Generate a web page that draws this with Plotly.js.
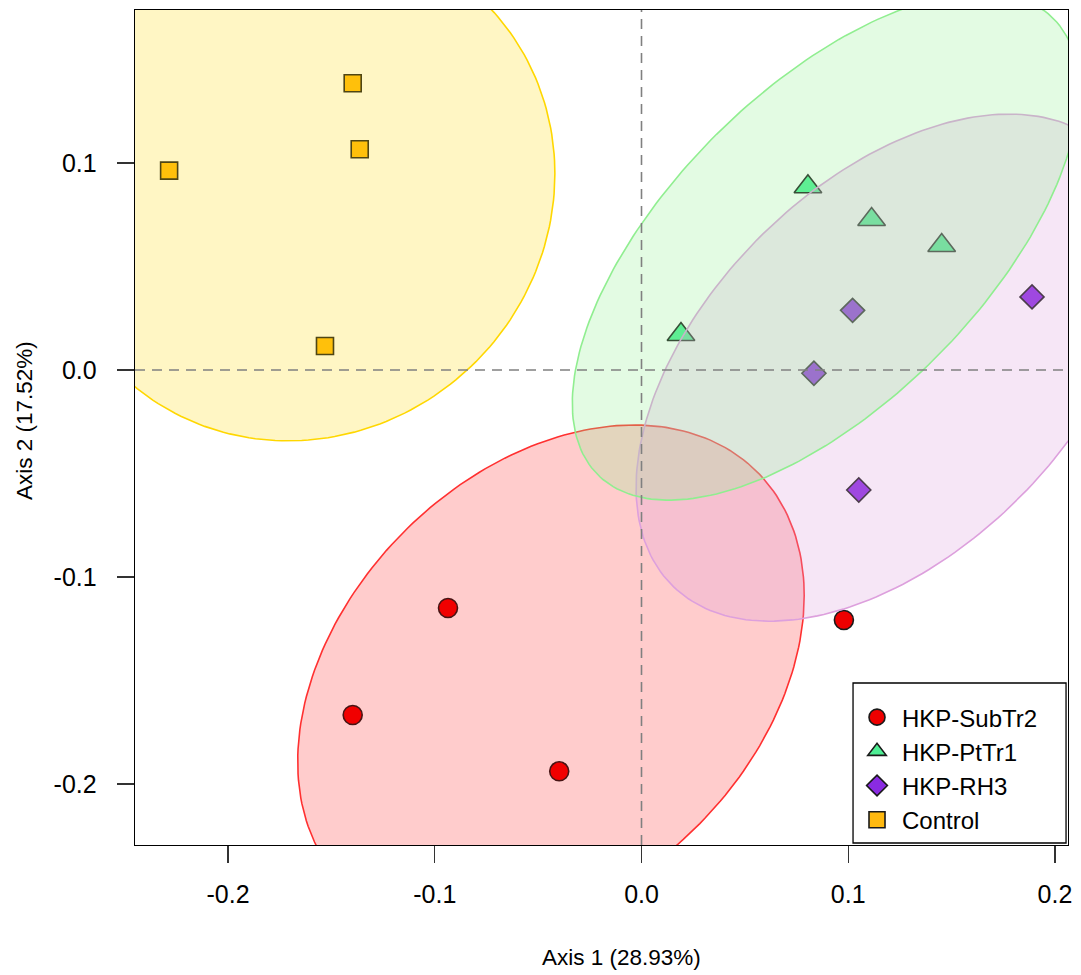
<!DOCTYPE html>
<html>
<head>
<meta charset="utf-8">
<script src="https://cdn.plot.ly/plotly-3.0.1.min.js"></script>
<style>html,body{margin:0;padding:0;background:#fff;}#chart{width:1081px;height:975px;}</style>
</head>
<body>
<div id="chart"></div>
<script>
// ---- data ----
const groups = ["HKP-SubTr2", "HKP-PtTr1", "HKP-RH3", "Control"];

const subTr2X = [-0.0936, -0.1397, -0.0398, 0.0979];
const subTr2Y = [-0.1150, -0.1667, -0.1939, -0.1208];

const ptTr1X = [0.0805, 0.1113, 0.1452, 0.0191];
const ptTr1Y = [0.0885, 0.0727, 0.0601, 0.0171];

const rh3X = [0.1021, 0.0834, 0.1889, 0.1051];
const rh3Y = [0.0288, -0.0016, 0.0353, -0.0580];

const controlX = [-0.2285, -0.1397, -0.1363, -0.1531];
const controlY = [0.0963, 0.1385, 0.1066, 0.0116];

const xTickVals = [-0.2, -0.1, 0.0, 0.1, 0.2];
const xTickText = ["-0.2", "-0.1", "0.0", "0.1", "0.2"];
const yTickVals = [-0.2, -0.1, 0.0, 0.1];
const yTickText = ["-0.2", "-0.1", "0.0", "0.1"];

const xTitle = "Axis 1 (28.93%)";
const yTitle = "Axis 2 (17.52%)";

// marginal half-extent of the group ellipses
const ellipseRadius = 0.1225;

// ---- styles ----
const markerFill = ["#EE0000", "#4EEE94", "#8A2BE2", "#FFB90F"];
const markerSymbol = ["circle", "triangle-up", "diamond", "square"];
const markerSize = [19, 24, 18.5, 17];
const ellipseFill = ["rgba(255,0,0,0.2)", "rgba(144,238,144,0.25)", "rgba(221,160,221,0.26)", "rgba(255,215,0,0.23)"];
const ellipseLine = ["#FF3030", "#90EE90", "#DDA0DD", "#FFD700"];
// order in which the ellipses are painted (red, purple, green, yellow)
const ellipseOrder = [0, 2, 1, 3];

const xs = [subTr2X, ptTr1X, rh3X, controlX];
const ys = [subTr2Y, ptTr1Y, rh3Y, controlY];

function mean(a){ return a.reduce((s,v)=>s+v,0)/a.length; }
function ellipseFromGroup(x, y){
  const mx = mean(x), my = mean(y);
  let sxx=0, syy=0, sxy=0;
  for (let i=0;i<x.length;i++){
    const dx=x[i]-mx, dy=y[i]-my;
    sxx+=dx*dx; syy+=dy*dy; sxy+=dx*dy;
  }
  const rho = sxy/Math.sqrt(sxx*syy);
  const d = Math.acos(rho);
  const ex=[], ey=[];
  const n = 240;
  for (let k=0;k<=n;k++){
    const t = 2*Math.PI*k/n;
    ex.push(mx + ellipseRadius*Math.cos(t));
    ey.push(my + ellipseRadius*Math.cos(t + d));
  }
  return {x: ex, y: ey};
}

const traces = [];
for (let g=0; g<groups.length; g++){
  traces.push({
    type: "scatter", mode: "markers", name: groups[g],
    x: xs[g], y: ys[g],
    marker: {symbol: markerSymbol[g], size: markerSize[g], color: markerFill[g],
             line: {color: "#1a1a1a", width: 1.6}},
    hoverinfo: "skip"
  });
}
for (const g of ellipseOrder){
  const e = ellipseFromGroup(xs[g], ys[g]);
  traces.push({
    type: "scatter", mode: "lines", x: e.x, y: e.y, showlegend: false,
    fill: "toself", fillcolor: ellipseFill[g],
    line: {color: ellipseLine[g], width: 1.6}, hoverinfo: "skip"
  });
}

const font = "Liberation Sans, Arial, Helvetica, sans-serif";

const layout = {
  width: 1081, height: 975,
  margin: {l: 135, r: 13, t: 10, b: 130},
  paper_bgcolor: "#ffffff", plot_bgcolor: "#ffffff",
  font: {family: font, color: "#000"},
  showlegend: true,
  xaxis: {
    range: [-0.245, 0.2063], tickmode: "array", tickvals: xTickVals, ticktext: xTickText,
    ticks: "outside", ticklen: 17, tickwidth: 1.3, tickcolor: "#333",
    showgrid: false, zeroline: false, showline: true, mirror: true,
    linecolor: "#000", linewidth: 1.3, tickfont: {size: 25, family: font},
    ticklabelstandoff: 10
  },
  yaxis: {
    range: [-0.2295, 0.1739], tickmode: "array", tickvals: yTickVals, ticktext: yTickText,
    ticks: "outside", ticklen: 17, tickwidth: 1.3, tickcolor: "#333",
    showgrid: false, zeroline: false, showline: true, mirror: true,
    linecolor: "#000", linewidth: 1.3, tickfont: {size: 25, family: font},
    ticklabelstandoff: 15
  },
  shapes: [
    {type: "line", xref: "x", yref: "paper", x0: 0, x1: 0, y0: 0, y1: 1, layer: "above",
     line: {color: "#808080", width: 1.6, dash: "10px,7px"}},
    {type: "line", xref: "paper", yref: "y", x0: 0, x1: 1, y0: 0, y1: 0, layer: "above",
     line: {color: "#808080", width: 1.6, dash: "10px,7px"}},
    // legend frame
    {type: "rect", xref: "paper", yref: "paper", x0: 0.7696, x1: 0.9979, y0: 0.0024, y1: 0.194,
     layer: "above", fillcolor: "#ffffff", line: {color: "#000", width: 1.3}}
  ],
  annotations: [
    {text: xTitle, xref: "paper", yref: "paper", x: 0.521, y: -0.1353, xanchor: "center", yanchor: "middle",
     showarrow: false, font: {size: 22.5, family: font}},
    {text: yTitle, xref: "paper", yref: "paper", x: -0.1179, y: 0.509, xanchor: "center", yanchor: "middle",
     textangle: -90, showarrow: false, font: {size: 22.5, family: font}}
  ],
  legend: {
    x: 0.7685, y: 0.1796, xanchor: "left", yanchor: "top",
    bgcolor: "rgba(0,0,0,0)", borderwidth: 0,
    font: {size: 24, family: font}, tracegroupgap: 0,
    itemwidth: 40
  }
};

Plotly.newPlot("chart", traces, layout, {displayModeBar: false, staticPlot: true});
</script>
</body>
</html>
